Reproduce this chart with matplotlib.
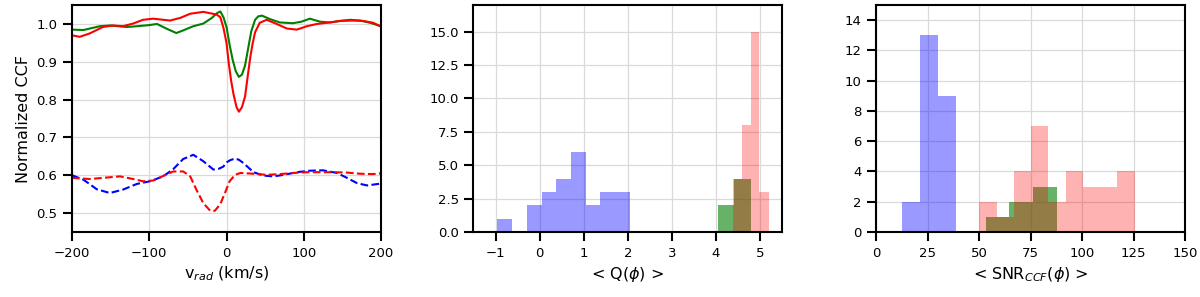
import numpy as np
import matplotlib
matplotlib.use('Agg')
import matplotlib.pyplot as plt

# CCF profiles
v_green = [-200, -185, -164, -151, -129, -116, -100, -90, -77, -65, -56, -43, -30, -19, -12, -8, -4, 0,
           4, 8, 12, 16, 20, 24, 28, 32, 37, 41, 46, 56, 69, 86, 97, 108, 121, 134, 147, 160, 173, 186, 200]
ccf_green = [0.985, 0.984, 0.994, 0.996, 0.992, 0.994, 0.997, 1.000, 0.987, 0.976, 0.983, 0.994, 1.001, 1.016,
             1.029, 1.033, 1.018, 0.992, 0.945, 0.905, 0.875, 0.860, 0.866, 0.890, 0.935, 0.980, 1.011, 1.020,
             1.022, 1.013, 1.004, 1.002, 1.006, 1.014, 1.006, 1.004, 1.008, 1.011, 1.009, 1.003, 0.994]

v_red = [-200, -190, -177, -160, -147, -134, -121, -108, -95, -73, -60, -47, -30, -13, -8, -4, 0, 3, 6, 9,
         13, 16, 20, 24, 28, 31, 34, 37, 43, 52, 65, 78, 91, 104, 117, 134, 147, 164, 177, 190, 200]
ccf_red = [0.970, 0.966, 0.975, 0.992, 0.996, 0.994, 1.001, 1.011, 1.014, 1.009, 1.016, 1.027, 1.032, 1.025,
           1.018, 0.990, 0.950, 0.895, 0.850, 0.815, 0.780, 0.768, 0.780, 0.808, 0.870, 0.915, 0.950, 0.978,
           1.003, 1.011, 1.000, 0.988, 0.985, 0.994, 1.000, 1.004, 1.008, 1.009, 1.008, 1.003, 0.993]

v_blue_d = [-200, -185, -168, -151, -134, -116, -99, -82, -69, -56, -43, -30, -17, -10, -4, 0, 5, 11, 16,
            22, 35, 48, 61, 74, 91, 108, 125, 143, 156, 169, 182, 200]
ccf_blue_d = [0.600, 0.588, 0.563, 0.553, 0.562, 0.577, 0.584, 0.597, 0.616, 0.643, 0.654, 0.637, 0.615,
              0.617, 0.623, 0.634, 0.640, 0.644, 0.641, 0.632, 0.608, 0.599, 0.597, 0.601, 0.608, 0.612,
              0.613, 0.606, 0.593, 0.579, 0.573, 0.578]

v_red_d = [-200, -177, -160, -138, -121, -108, -95, -82, -69, -56, -47, -39, -30, -21, -15, -8, -2, 4, 11,
           18, 35, 52, 69, 87, 104, 121, 138, 156, 173, 190, 200]
ccf_red_d = [0.593, 0.590, 0.593, 0.597, 0.590, 0.584, 0.586, 0.598, 0.610, 0.610, 0.597, 0.562, 0.526,
             0.506, 0.506, 0.524, 0.553, 0.584, 0.601, 0.606, 0.604, 0.601, 0.603, 0.606, 0.608, 0.608,
             0.608, 0.607, 0.604, 0.603, 0.605]

# histogram of <Q(phi)>
q_blue_edges = [-0.98, -0.64, -0.30, 0.04, 0.37, 0.71, 1.04, 1.38, 1.71, 2.05]
q_blue_counts = [1, 0, 2, 3, 4, 6, 2, 3, 3]
q_green_edges = [4.04, 4.42, 4.81]
q_green_counts = [2, 4]
q_red_edges = [4.38, 4.59, 4.79, 4.99, 5.20]
q_red_counts = [4, 8, 15, 3]

# histogram of <SNR_CCF(phi)>
s_blue_edges = [12.5, 21.2, 29.9, 38.7]
s_blue_counts = [2, 13, 9]
s_green_edges = [53.4, 64.8, 76.4, 88.0]
s_green_counts = [1, 2, 3]
s_red_edges = [50.2, 58.5, 66.9, 75.3, 83.6, 92.0, 100.4, 108.8, 117.1, 125.5]
s_red_counts = [2, 1, 4, 7, 2, 4, 3, 3, 4]

plt.rcParams['font.family'] = ['DejaVu Sans']

fig = plt.figure(figsize=(12, 2.97), dpi=100)
bottom, height = 0.219, 0.764
w = 0.2575
ax1 = fig.add_axes([0.060, bottom, w, height])
ax2 = fig.add_axes([0.3944, bottom, w, height])
ax3 = fig.add_axes([0.730, bottom, w, height])

ax1.plot(v_green, ccf_green, color='g', lw=1.5)
ax1.plot(v_red, ccf_red, color='r', lw=1.5)
ax1.plot(v_blue_d, ccf_blue_d, color='b', lw=1.5, ls='--')
ax1.plot(v_red_d, ccf_red_d, color='r', lw=1.5, ls='--')
ax1.set_xlim(-200, 200)
ax1.set_ylim(0.45, 1.05)
ax1.set_xticks([-200, -100, 0, 100, 200])
ax1.set_yticks([0.5, 0.6, 0.7, 0.8, 0.9, 1.0])
ax1.set_xlabel(r'v$_{rad}$ (km/s)', fontsize=11.5)
ax1.set_ylabel('Normalized CCF', fontsize=11.5)


def hist(ax, edges, counts, color, alpha):
    ax.hist(edges[:-1], bins=edges, weights=counts, color=color, alpha=alpha)


hist(ax2, q_blue_edges, q_blue_counts, 'b', 0.4)
hist(ax2, q_green_edges, q_green_counts, 'g', 0.6)
hist(ax2, q_red_edges, q_red_counts, 'r', 0.3)
ax2.set_xlim(-1.51, 5.51)
ax2.set_ylim(0, 17)
ax2.set_xticks([-1, 0, 1, 2, 3, 4, 5])
ax2.set_yticks([0, 2.5, 5, 7.5, 10, 12.5, 15])
ax2.set_xlabel(r'< Q($\phi$) >', fontsize=11.5)

hist(ax3, s_blue_edges, s_blue_counts, 'b', 0.4)
hist(ax3, s_green_edges, s_green_counts, 'g', 0.6)
hist(ax3, s_red_edges, s_red_counts, 'r', 0.3)
ax3.set_xlim(0, 150)
ax3.set_ylim(0, 15)
ax3.set_xticks([0, 25, 50, 75, 100, 125, 150])
ax3.set_yticks([0, 2, 4, 6, 8, 10, 12, 14])
ax3.set_xlabel(r'< SNR$_{CCF}$($\phi$) >', fontsize=11.5)

for ax in (ax1, ax2, ax3):
    ax.grid(color='#dadada', lw=0.9)
    ax.set_axisbelow(True)
    for s in ax.spines.values():
        s.set_linewidth(1.5)
    ax.tick_params(labelsize=9.5, length=6.5, width=1.5, pad=4)

fig.savefig('out.png', dpi=100)
